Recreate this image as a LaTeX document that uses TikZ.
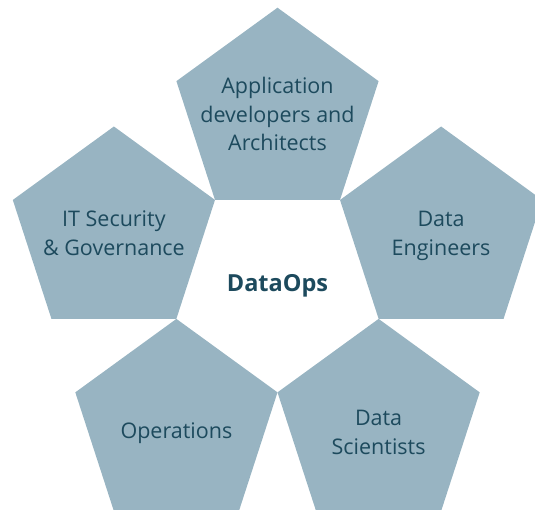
\documentclass[tikz,border=0pt]{standalone}
\usepackage{fontspec}
\setmainfont{Open Sans}
\usetikzlibrary{shapes.geometric}
\definecolor{petalfill}{HTML}{98B4C2}
\definecolor{petalink}{HTML}{1D4A5D}

\begin{document}
\begin{tikzpicture}[x=1pt,y=1pt,
	petal/.style={regular polygon, regular polygon sides=5, minimum size=212.6pt, inner sep=0pt, outer sep=0pt, fill=petalfill},
	petaltext/.style={align=center, font=\fontsize{21.5}{29}\selectfont, text=petalink}]
	% Frame
	\clip (0,0) rectangle (535,509);

	% Petals round the hub
	\node[petal] (app) at (277.5,395.0) {};
	\node[petal] (sec) at (113.9,276.2) {};
	\node[petal] (eng) at (441.1,276.2) {};
	\node[petal] (ops) at (176.4,83.8) {};
	\node[petal] (sci) at (378.6,83.8) {};

	% Hub
	\node[petaltext, font=\fontsize{23.5}{29}\selectfont\bfseries] (hub) at (277.5,223) {DataOps};

	% Petal labels
	\node[petaltext, font=\fontsize{21.5}{28.3}\selectfont] (applbl) at (app.center) {Application\\developers and\\Architects};
	\node[petaltext] (seclbl) at (sec.center) {IT Security\\\& Governance};
	\node[petaltext, yshift=-3pt] (englbl) at (eng.center) {Data\\Engineers};
	\node[petaltext, yshift=-8pt] (opslbl) at (ops.center) {Operations};
	\node[petaltext, yshift=-7pt] (scilbl) at (sci.center) {Data\\Scientists};
\end{tikzpicture}
\end{document}
